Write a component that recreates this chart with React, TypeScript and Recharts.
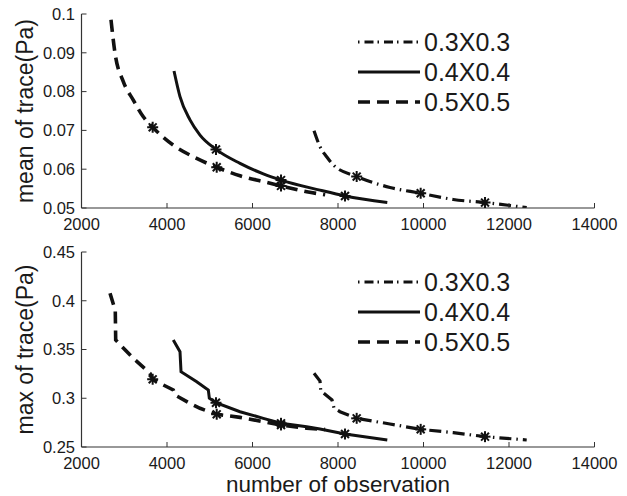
import React from "react";
import {
  ComposedChart,
  Line,
  Scatter,
  XAxis,
  YAxis,
  Label,
} from "recharts";

// values: [number of observation, trace (Pa)]
const mean03: [number, number][] = [
  [7439, 0.0699], [7579, 0.0658], [7735, 0.0632], [7891, 0.0611], [8437, 0.0581],
  [9216, 0.0553], [9934, 0.0538], [10697, 0.0522], [11439, 0.0514], [12414, 0.0501],
];
const mean04: [number, number][] = [
  [4164, 0.0853], [4304, 0.0787], [4538, 0.0727], [4772, 0.0688], [5146, 0.0651],
  [5708, 0.0615], [6253, 0.0588], [6667, 0.0572], [7579, 0.0546], [8164, 0.0531], [9153, 0.0514],
];
const mean05: [number, number][] = [
  [2690, 0.0985], [2784, 0.0899], [2978, 0.0826], [3212, 0.0778], [3446, 0.0735],
  [3665, 0.0708], [4147, 0.0662], [4615, 0.0632], [5163, 0.0605], [5708, 0.0583],
  [6253, 0.0568], [6667, 0.0557], [7268, 0.0542], [7700, 0.0534],
];
const meanStars03: [number, number][] = [[8437, 0.0581], [9934, 0.0538], [11439, 0.0514]];
const meanStars04: [number, number][] = [[5146, 0.0651], [6667, 0.0572], [8164, 0.0531]];
const meanStars05: [number, number][] = [[3665, 0.0708], [5163, 0.0605], [6667, 0.0557]];

const max03: [number, number][] = [
  [7439, 0.3256], [7579, 0.3177], [7596, 0.3077], [7860, 0.2982], [7906, 0.29],
  [8047, 0.2862], [8437, 0.2794], [9216, 0.2736], [9934, 0.2681], [10697, 0.2647],
  [11439, 0.2606], [12414, 0.2572],
];
const max04: [number, number][] = [
  [4147, 0.3597], [4304, 0.3477], [4328, 0.3272], [4695, 0.317], [4967, 0.3085],
  [4990, 0.3], [5146, 0.2954], [5708, 0.2862], [6253, 0.2794], [6667, 0.2743],
  [7268, 0.2708], [7579, 0.2685], [8164, 0.2633], [9153, 0.2572],
];
const max05: [number, number][] = [
  [2667, 0.4076], [2790, 0.39], [2800, 0.3597], [3212, 0.341], [3602, 0.3256],
  [3665, 0.3194], [3914, 0.3136], [4147, 0.3085], [4187, 0.3033], [4538, 0.2948],
  [4772, 0.2897], [5163, 0.2835], [5708, 0.2804], [6253, 0.276], [6667, 0.2726],
  [7268, 0.2692], [7700, 0.268],
];
const maxStars03: [number, number][] = [[8437, 0.2794], [9934, 0.2681], [11439, 0.2606]];
const maxStars04: [number, number][] = [[5146, 0.2954], [6667, 0.2743], [8164, 0.2633]];
const maxStars05: [number, number][] = [[3665, 0.3194], [5163, 0.2835], [6667, 0.2726]];

const seriesNames = ["0.3X0.3", "0.4X0.4", "0.5X0.5"];
const xTicks = [2000, 4000, 6000, 8000, 10000, 12000, 14000];
const meanTicks = [0.05, 0.06, 0.07, 0.08, 0.09, 0.1];
const maxTicks = [0.25, 0.3, 0.35, 0.4, 0.45];

const FONT = "'Liberation Sans', Arial, Helvetica, sans-serif";
const INK = "#111";
const AXIS = "#333";

const toPts = (arr: [number, number][]) => arr.map(([x, y]) => ({ x, y }));

// line looks per series, same order as seriesNames
const styles = [
  { width: 3.2, dash: "12 5 1.5 5" },
  { width: 3, dash: undefined },
  { width: 3.6, dash: "12 7" },
];

// MATLAB-like "*" marker
function Asterisk(props: any) {
  const { cx, cy } = props;
  if (cx == null || cy == null) return null;
  const r = 5.5;
  const d = r * 0.72;
  return (
    <g stroke={INK} strokeWidth={2}>
      <line x1={cx - r} y1={cy} x2={cx + r} y2={cy} />
      <line x1={cx} y1={cy - r} x2={cx} y2={cy + r} />
      <line x1={cx - d} y1={cy - d} x2={cx + d} y2={cy + d} />
      <line x1={cx - d} y1={cy + d} x2={cx + d} y2={cy - d} />
    </g>
  );
}

// legend drawn as an overlay so it takes no room from the plot
function LegendBox({ left, top }: { left: number; top: number }) {
  return (
    <svg
      width={200}
      height={90}
      style={{ position: "absolute", left, top, overflow: "visible" }}
    >
      {seriesNames.map((name, i) => (
        <g key={name}>
          <line
            x1={0}
            x2={62}
            y1={14 + i * 30}
            y2={14 + i * 30}
            stroke={INK}
            strokeWidth={styles[i].width}
            strokeDasharray={i === 0 ? "1.5 5 9 4" : styles[i].dash}
          />
          <text
            x={66}
            y={14 + i * 30}
            dominantBaseline="central"
            fontSize={25}
            fontFamily={FONT}
            fill="#1a1a1a"
          >
            {name}
          </text>
        </g>
      ))}
    </svg>
  );
}

const tickStyle = { fontSize: 16.5, fontFamily: FONT, fill: "#1a1a1a" };

type PanelProps = {
  lines: [number, number][][];
  stars: [number, number][][];
  yTicks: number[];
  yLabel: string;
  height: number;
  top: number;
  bottom: number;
  xLabel?: string;
  curve: "monotoneX" | "linear";
};

function Panel({ lines, stars, yTicks, yLabel, height, top, bottom, xLabel, curve }: PanelProps) {
  const plotH = height - top - bottom;
  const midY = top + plotH / 2;
  return (
    <ComposedChart
      width={627}
      height={height}
      margin={{ top, right: 32.5, left: 0, bottom: 0 }}
      style={{ display: "block" }}
    >
      <XAxis
        dataKey="x"
        type="number"
        domain={[2000, 14000]}
        ticks={xTicks}
        interval={0}
        allowDataOverflow
        height={bottom}
        tickSize={-5}
        tickMargin={15}
        tick={tickStyle}
        axisLine={{ stroke: AXIS, strokeWidth: 1.2 }}
        tickLine={{ stroke: AXIS, strokeWidth: 1 }}
      >
        {xLabel ? (
          <Label
            content={() => (
              <text
                x={338}
                y={height - 4}
                textAnchor="middle"
                fontSize={22.5}
                fontFamily={FONT}
                fill="#1a1a1a"
              >
                {xLabel}
              </text>
            )}
          />
        ) : null}
      </XAxis>
      <YAxis
        dataKey="y"
        type="number"
        domain={[yTicks[0], yTicks[yTicks.length - 1]]}
        ticks={yTicks}
        interval={0}
        allowDataOverflow
        width={81.5}
        tickSize={-5}
        tickMargin={11.5}
        tick={tickStyle}
        axisLine={{ stroke: AXIS, strokeWidth: 1.2 }}
        tickLine={{ stroke: AXIS, strokeWidth: 1 }}
      >
        <Label
          content={() => (
            <text
              x={25}
              y={midY}
              transform={`rotate(-90 25 ${midY})`}
              textAnchor="middle"
              dominantBaseline="central"
              fontSize={23}
              fontFamily={FONT}
              fill="#1a1a1a"
            >
              {yLabel}
            </text>
          )}
        />
      </YAxis>
      {lines.map((arr, i) => (
        <Line
          key={seriesNames[i]}
          data={toPts(arr)}
          dataKey="y"
          name={seriesNames[i]}
          type={curve}
          stroke={INK}
          strokeWidth={styles[i].width}
          strokeDasharray={styles[i].dash}
          dot={false}
          activeDot={false}
          isAnimationActive={false}
        />
      ))}
      {stars.map((arr, i) => (
        <Scatter
          key={"s" + seriesNames[i]}
          data={toPts(arr)}
          dataKey="y"
          shape={Asterisk}
          isAnimationActive={false}
        />
      ))}
    </ComposedChart>
  );
}

export default function App() {
  return (
    <div
      style={{
        position: "absolute",
        left: 0,
        top: 0,
        width: 627,
        height: 496,
        background: "#fff",
      }}
    >
      <Panel
        lines={[mean03, mean04, mean05]}
        stars={[meanStars03, meanStars04, meanStars05]}
        yTicks={meanTicks}
        yLabel="mean of trace(Pa)"
        height={240}
        top={14}
        bottom={32}
        curve="monotoneX"
      />
      <Panel
        lines={[max03, max04, max05]}
        stars={[maxStars03, maxStars04, maxStars05]}
        yTicks={maxTicks}
        yLabel="max of trace(Pa)"
        xLabel="number of observation"
        height={256}
        top={12}
        bottom={49}
        curve="linear"
      />
      <LegendBox left={358} top={28} />
      <LegendBox left={358} top={268} />
    </div>
  );
}
